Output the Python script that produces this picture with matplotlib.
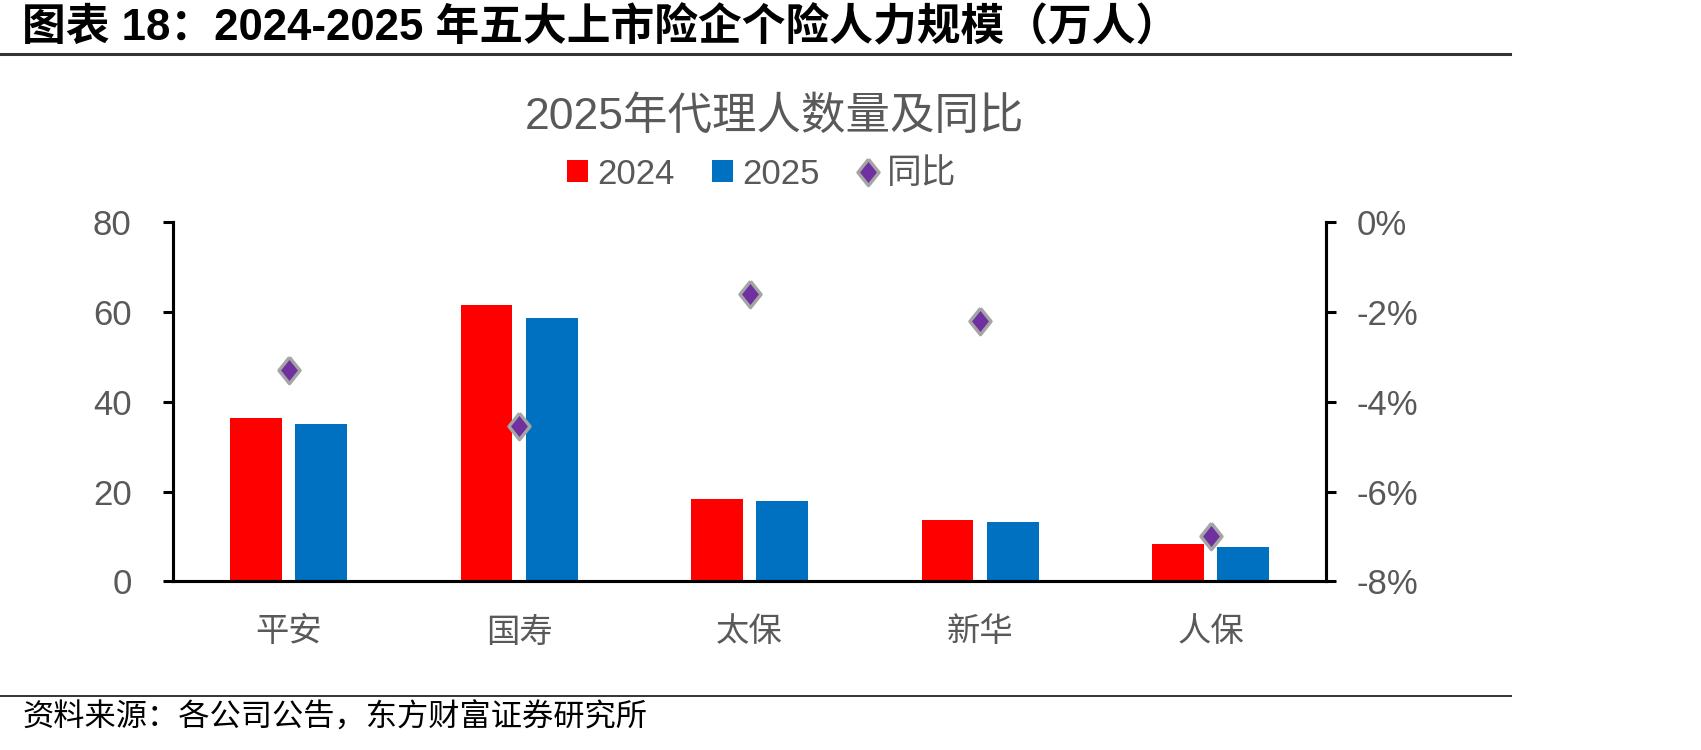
import matplotlib
matplotlib.use("Agg")
import matplotlib.pyplot as plt
from matplotlib.patches import Patch
from matplotlib.lines import Line2D
import numpy as np

plt.rcParams['font.family'] = ['Liberation Sans', 'Noto Sans CJK SC', 'DejaVu Sans']

# ------------------------------------------------------------------------
categories = ['平安', '国寿', '太保', '新华', '人保']
agents_2024 = [36.3, 61.5, 18.4, 13.6, 8.3]     # 万人
agents_2025 = [35.1, 58.7, 18.0, 13.2, 7.7]     # 万人
yoy_pct = [-3.3, -4.55, -1.6, -2.2, -7.0]      # %
left_ticks = [0, 20, 40, 60, 80]
right_ticks = [-8, -6, -4, -2, 0]
# ------------------------------------------------------------------------

RED, BLUE, PURPLE, EDGE = "#FF0000", "#0070C0", "#7030A0", "#A5A5A5"
GREY = "#595959"
DIAMOND = [(0, 1), (0.8, 0), (0, -1), (-0.8, 0), (0, 1)]

fig = plt.figure(figsize=(17.01, 7.5), dpi=100)
ax = fig.add_axes([0.1019, 0.2249, 0.6775, 0.4787])
ax2 = ax.twinx()

x = np.arange(len(categories))
w, off = 0.224, 0.1417
ax.bar(x - off, agents_2024, width=w, color=RED, zorder=2)
ax.bar(x + off, agents_2025, width=w, color=BLUE, zorder=2)
ax2.plot(x, yoy_pct, linestyle="none", marker=DIAMOND, markersize=19,
         markerfacecolor=PURPLE, markeredgecolor=EDGE, markeredgewidth=2.4)

ax.set_xlim(-0.5, len(categories) - 0.5)
ax.set_ylim(0, 80)
ax.set_yticks(left_ticks)
ax.set_xticks(x)
ax.set_xticklabels(categories)
ax2.set_ylim(-8, 0)
ax2.set_yticks(right_ticks)
ax2.set_yticklabels([f"{t}%" for t in right_ticks])

for a in (ax, ax2):
    a.spines["top"].set_visible(False)
    for s in ("left", "right", "bottom"):
        a.spines[s].set_linewidth(2.2)
        a.spines[s].set_color("black")
ax.tick_params(axis="y", length=7, width=2.2, labelsize=25, labelcolor=GREY, pad=23)
ax.tick_params(axis="x", length=0, labelsize=24, labelcolor=GREY, pad=26)
ax2.tick_params(axis="y", length=7, width=2.2, labelsize=25, labelcolor=GREY, pad=15)

# chart title + legend
fig.text(774 / 1701, 1 - 117 / 750, "2025年代理人数量及同比",
         ha="center", va="center", fontsize=32, color=GREY)
handles = [
    Patch(facecolor=RED, label="2024"),
    Patch(facecolor=BLUE, label="2025"),
    Line2D([], [], linestyle="none", marker=DIAMOND, markersize=19,
           markerfacecolor=PURPLE, markeredgecolor=EDGE, markeredgewidth=2.4,
           label="同比"),
]
leg = fig.legend(handles=handles, loc="center", ncol=3, frameon=False,
                 bbox_to_anchor=(762 / 1701, 1 - 174 / 750), fontsize=25,
                 handlelength=0.6, handleheight=0.6, handletextpad=0.25,
                 columnspacing=1.1)
for t in leg.get_texts():
    t.set_color(GREY)

# report header / footer
fig.text(22 / 1701, 1 - 28 / 750, "图表 18：2024-2025 年五大上市险企个险人力规模（万人）",
         ha="left", va="center", fontsize=31.5, fontweight="bold", color="black")
fig.add_artist(Line2D([0, 1510 / 1701], [1 - 54 / 750] * 2, color="#333333", linewidth=2.2))
fig.add_artist(Line2D([0, 1511 / 1701], [1 - 696 / 750] * 2, color="#333333", linewidth=1.4))
fig.text(22 / 1701, 1 - 719 / 750, "资料来源：各公司公告，东方财富证券研究所",
         ha="left", va="center", fontsize=22.5, color="black")

fig.savefig("out.png", dpi=100)
